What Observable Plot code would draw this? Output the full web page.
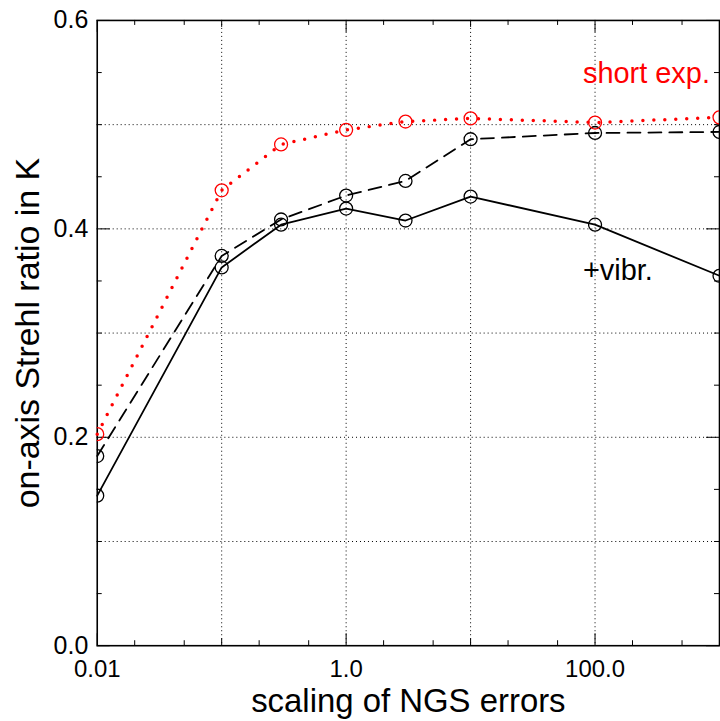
<!DOCTYPE html>
<html>
<head>
<meta charset="utf-8">
<script src="https://cdn.jsdelivr.net/npm/d3@7"></script>
<script src="https://cdn.jsdelivr.net/npm/@observablehq/plot@0.6"></script>
<style>
html, body { margin: 0; padding: 0; background: #fff; overflow: hidden; }
</style>
</head>
<body>
<div id="chart"></div>
<script>
// ---- data ----
const scaling   = [0.01, 0.1, 0.3, 1, 3, 10, 100, 1000];
const shortExp  = [0.203, 0.437, 0.481, 0.495, 0.503, 0.506, 0.502, 0.507];
const longExp   = [0.182, 0.374, 0.409, 0.432, 0.446, 0.486, 0.492, 0.493];
const withVibr  = [0.144, 0.363, 0.404, 0.4195, 0.408, 0.431, 0.404, 0.355];

const xLabelTicks = [0.01, 1, 100];
const xLabelText  = ["0.01", "1.0", "100.0"];
const xDecadeTicks = [0.1, 10, 1000];
const xMinorTicks = [0.02, 0.05, 0.2, 0.5, 2, 5, 20, 50, 200, 500];
const xGrid = [0.1, 1, 10, 100];
const yLabelTicks = [0, 0.2, 0.4, 0.6];
const yMinorTicks = [0.05, 0.1, 0.15, 0.25, 0.3, 0.35, 0.45, 0.5, 0.55];
const yGrid = [0.1, 0.2, 0.3, 0.4, 0.5];

const annText  = ["short exp.", "+vibr."];
const annX     = [80, 80];
const annY     = [0.54, 0.351];
const annColor = ["red", "black"];

const xTitle = "scaling of NGS errors";
const yTitle = "on-axis Strehl ratio in K";

// ---- tables built from arrays ----
const rows = scaling.map((s, i) => ({s, shortExp: shortExp[i], longExp: longExp[i], withVibr: withVibr[i]}));
const ann = annText.map((t, i) => ({t, x: annX[i], y: annY[i], c: annColor[i]}));

const W = 722, H = 721, ML = 97, MR = 1, MT = 20, MB = 74;
const FW = W - ML - MR, FH = H - MT - MB;
const labelMap = new Map(xLabelTicks.map((d, i) => [d, xLabelText[i]]));

function xTicks(data, len) {
  return [
    Plot.gridX(data, {insetTop: FH - len, stroke: "black", strokeOpacity: 1, strokeWidth: 1}),
    Plot.gridX(data, {insetBottom: FH - len, stroke: "black", strokeOpacity: 1, strokeWidth: 1})
  ];
}
function yTicks(data, len) {
  return [
    Plot.gridY(data, {insetRight: FW - len, stroke: "black", strokeOpacity: 1, strokeWidth: 1}),
    Plot.gridY(data, {insetLeft: FW - len, stroke: "black", strokeOpacity: 1, strokeWidth: 1})
  ];
}

const chart = Plot.plot({
  width: W, height: H,
  marginLeft: ML, marginRight: MR, marginTop: MT, marginBottom: MB,
  style: {fontFamily: "'Liberation Sans', Arial, Helvetica, sans-serif", background: "white", color: "black", overflow: "visible"},
  x: {type: "log", domain: [0.01, 1000], label: null},
  y: {domain: [0, 0.6], label: null},
  marks: [
    Plot.gridX(xGrid, {stroke: "black", strokeOpacity: 1, strokeWidth: 1, strokeDasharray: "1,3"}),
    Plot.gridY(yGrid, {stroke: "black", strokeOpacity: 1, strokeWidth: 1, strokeDasharray: "1,3"}),
    ...xTicks(xLabelTicks, 12),
    ...xTicks(xDecadeTicks, 7),
    ...xTicks(xMinorTicks, 5),
    ...yTicks(yLabelTicks, 13),
    ...yTicks(yMinorTicks, 5),
    Plot.axisX(xLabelTicks, {tickSize: 0, tickPadding: 14, fontSize: 24, tickFormat: d => labelMap.get(d), label: null}),
    Plot.axisY(yLabelTicks, {tickSize: 0, tickPadding: 9, fontSize: 25, tickFormat: d3.format(".1f"), label: null}),
    Plot.frame({stroke: "black", strokeWidth: 1.6}),
    Plot.line(rows, {x: "s", y: "withVibr", stroke: "black", strokeWidth: 1.8}),
    Plot.line(rows, {x: "s", y: "longExp", stroke: "black", strokeWidth: 1.8, strokeDasharray: "13,8"}),
    Plot.line(rows, {x: "s", y: "shortExp", stroke: "red", strokeWidth: 3.5, strokeDasharray: "0,11", strokeLinecap: "round"}),
    Plot.dot(rows, {x: "s", y: "withVibr", r: 6.5, stroke: "black", strokeWidth: 1.3, fill: "none", clip: true}),
    Plot.dot(rows, {x: "s", y: "longExp", r: 6.5, stroke: "black", strokeWidth: 1.3, fill: "none", clip: true}),
    Plot.dot(rows, {x: "s", y: "shortExp", r: 6.5, stroke: "red", strokeWidth: 1.3, fill: "none", clip: true}),
    Plot.text(ann, {x: "x", y: "y", text: "t", fill: "c", fontSize: 29, textAnchor: "start", lineAnchor: "bottom"}),
    Plot.text([xTitle], {frameAnchor: "bottom", dy: 66, fontSize: 33, textAnchor: "middle", lineAnchor: "bottom"}),
    Plot.text([yTitle], {frameAnchor: "left", dx: -58, rotate: -90, fontSize: 34, textAnchor: "middle", lineAnchor: "bottom"})
  ]
});
document.getElementById("chart").appendChild(chart);
</script>
</body>
</html>
